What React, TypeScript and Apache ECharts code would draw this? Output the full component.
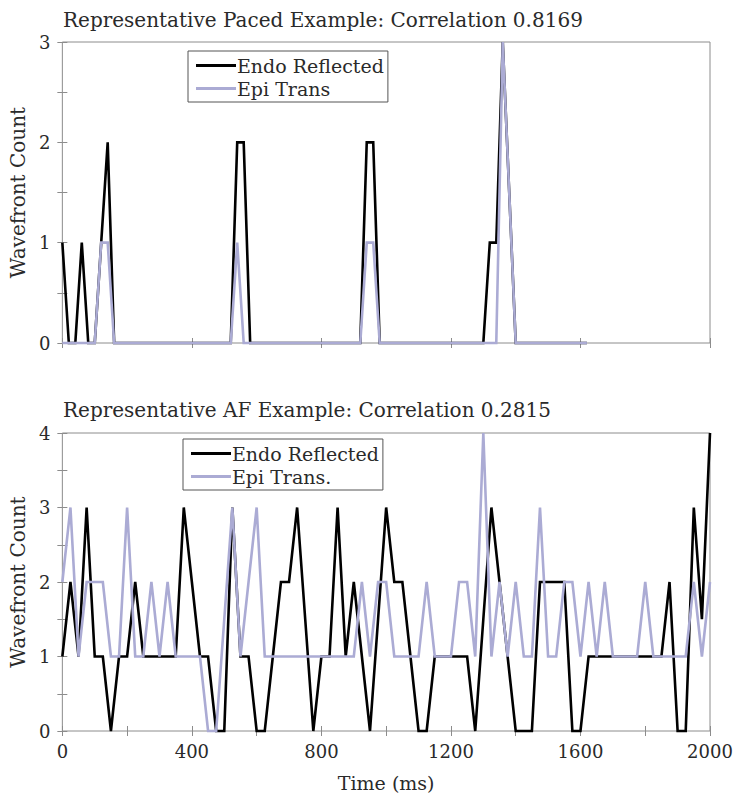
import React, { useEffect, useRef } from "react";
import * as echarts from "echarts";

// ---- Data ----
const PACED_STEP_MS = 20; // sample spacing of the paced recording
const AF_STEP_MS = 25; // sample spacing of the AF recording

const pacedEndo = [
  1, 0, 0, 1, 0, 0, 1, 2, 0, 0,
  0, 0, 0, 0, 0, 0, 0, 0, 0, 0,
  0, 0, 0, 0, 0, 0, 0, 2, 2, 0,
  0, 0, 0, 0, 0, 0, 0, 0, 0, 0,
  0, 0, 0, 0, 0, 0, 0, 2, 2, 0,
  0, 0, 0, 0, 0, 0, 0, 0, 0, 0,
  0, 0, 0, 0, 0, 0, 1, 1, 3, 1.5,
  0, 0, 0, 0, 0, 0, 0, 0, 0, 0,
  0, 0,
];
const pacedEpi = [
  0, 0, 0, 0, 0, 0, 1, 1, 0, 0,
  0, 0, 0, 0, 0, 0, 0, 0, 0, 0,
  0, 0, 0, 0, 0, 0, 0, 1, 0, 0,
  0, 0, 0, 0, 0, 0, 0, 0, 0, 0,
  0, 0, 0, 0, 0, 0, 0, 1, 1, 0,
  0, 0, 0, 0, 0, 0, 0, 0, 0, 0,
  0, 0, 0, 0, 0, 0, 0, 0, 3, 1.5,
  0, 0, 0, 0, 0, 0, 0, 0, 0, 0,
  0, 0,
];

const afEndo = [
  1, 2, 1, 3, 1, 1, 0, 1, 1, 2,
  1, 1, 1, 1, 1, 3, 2, 1, 1, 0,
  0, 3, 1, 1, 0, 0, 1, 2, 2, 3,
  1.5, 0, 1, 1, 3, 1, 2, 1, 0, 1.5,
  3, 2, 2, 1, 0, 0, 1, 1, 1, 1,
  1, 0, 1.5, 3, 2, 1, 0, 0, 0, 2,
  2, 2, 2, 0, 0, 1, 1, 1, 1, 1,
  1, 1, 1, 1, 1, 2, 0, 0, 3, 1.5,
  4,
];
const afEpi = [
  2, 3, 1, 2, 2, 2, 1, 1, 3, 1,
  1, 2, 1, 2, 1, 1, 1, 1, 0, 0,
  1.5, 3, 1, 2, 3, 1, 1, 1, 1, 1,
  1, 1, 1, 1, 1, 1, 1, 2, 1, 2,
  2, 1, 1, 1, 1, 2, 1, 1, 1, 2,
  2, 1, 4, 1, 2, 1, 2, 1, 1, 3,
  1, 1, 2, 2, 1, 2, 1, 2, 1, 1,
  1, 1, 2, 1, 1, 1, 1, 1, 2, 1,
  2,
];

const titles = [
  "Representative Paced Example: Correlation 0.8169",
  "Representative AF Example: Correlation 0.2815",
];
const endoName = "Endo Reflected";
const epiNames = ["Epi Trans", "Epi Trans."];
const yName = "Wavefront Count";
const xName = "Time (ms)";

// ---- Styles ----
const FONT = "'DejaVu Serif', 'Liberation Serif', serif";
const AXIS = "#8c8c8c";
const TEXT = "#2a2a2a";
const BLACK = "#000000";
const LAV = "#ababd4";

export default function App() {
  const ref = useRef<HTMLDivElement>(null);

  useEffect(() => {
    if (!ref.current) return;
    const chart = echarts.init(ref.current, undefined, { renderer: "svg" });

    const tick = { show: true, inside: true, length: 5, lineStyle: { color: AXIS } };
    const label = { color: TEXT, fontSize: 18, fontFamily: FONT };

    const xAxisFor = (grid: number, pos: "top" | "bottom", interval: number, labels: boolean, extra: any = {}) => ({
      type: "value",
      gridIndex: grid,
      position: pos,
      min: 0,
      max: 2000,
      interval,
      axisLine: { show: false },
      axisTick: tick,
      splitLine: { show: false },
      axisLabel: labels
        ? {
            ...label,
            margin: 11,
            showMinLabel: true,
            showMaxLabel: true,
            formatter: (v: number) => (v % 400 === 0 ? String(v) : ""),
          }
        : { show: false },
      ...extra,
    });

    const yAxisFor = (grid: number, pos: "left" | "right", max: number, labels: boolean, extra: any = {}) => ({
      type: "value",
      gridIndex: grid,
      position: pos,
      min: 0,
      max,
      interval: 0.5,
      axisLine: { show: false },
      axisTick: tick,
      splitLine: { show: false },
      axisLabel: labels
        ? {
            ...label,
            margin: 12,
            formatter: (v: number) => (Number.isInteger(v) ? String(v) : ""),
          }
        : { show: false },
      ...extra,
    });

    const yNameCfg = {
      name: yName,
      nameLocation: "middle",
      nameGap: 33,
      nameTextStyle: { color: TEXT, fontSize: 20, fontFamily: FONT },
    };

    const lineSeries = (name: string, data: number[], step: number, axis: number, color: string) => ({
      type: "line",
      name,
      xAxisIndex: axis,
      yAxisIndex: axis,
      data: data.map((v, i) => [i * step, v]),
      symbol: "none",
      showSymbol: false,
      clip: false,
      lineStyle: { color, width: 2.6, join: "miter" },
      itemStyle: { color },
    });

    const legendCfg = (left: number, top: number, names: string[]) => ({
      left,
      top,
      orient: "vertical",
      data: names.map((n) => ({ name: n, icon: "rect" })),
      borderColor: "#555",
      borderWidth: 1,
      backgroundColor: "#fff",
      padding: [5, 4, 4, 8],
      itemGap: 4,
      itemWidth: 40,
      itemHeight: 3,
      textStyle: { color: TEXT, fontSize: 19, fontFamily: FONT, padding: [0, 0, 0, -4] },
      selectedMode: false,
    });

    chart.setOption({
      animation: false,
      backgroundColor: "#fff",
      title: [
        { text: titles[0], left: 58, top: 5, textStyle: { color: TEXT, fontSize: 20, fontWeight: "normal", fontFamily: FONT } },
        { text: titles[1], left: 58, top: 395, textStyle: { color: TEXT, fontSize: 20, fontWeight: "normal", fontFamily: FONT } },
      ],
      legend: [
        legendCfg(188, 51, [endoName, epiNames[0]]),
        legendCfg(183, 439, [endoName, epiNames[1]]),
      ],
      grid: [
        { left: 55, right: 30, top: 42, height: 301, show: true, borderColor: AXIS, borderWidth: 1, backgroundColor: "transparent" },
        { left: 55, right: 30, top: 433, height: 302, show: true, borderColor: AXIS, borderWidth: 1, backgroundColor: "transparent" },
      ],
      xAxis: [
        xAxisFor(0, "bottom", 400, false),
        xAxisFor(0, "top", 400, false),
        xAxisFor(1, "bottom", 200, true, {
          name: xName,
          nameLocation: "middle",
          nameGap: 42,
          nameTextStyle: { color: TEXT, fontSize: 19, fontFamily: FONT },
        }),
        xAxisFor(1, "top", 200, false),
      ],
      yAxis: [
        yAxisFor(0, "left", 3, true, yNameCfg),
        yAxisFor(0, "right", 3, false),
        yAxisFor(1, "left", 4, true, yNameCfg),
        yAxisFor(1, "right", 4, false),
      ],
      series: [
        lineSeries(endoName, pacedEndo, PACED_STEP_MS, 0, BLACK),
        lineSeries(epiNames[0], pacedEpi, PACED_STEP_MS, 0, LAV),
        lineSeries(endoName, afEndo, AF_STEP_MS, 2, BLACK),
        lineSeries(epiNames[1], afEpi, AF_STEP_MS, 2, LAV),
      ],
    });

    return () => chart.dispose();
  }, []);

  return (
    <div
      ref={ref}
      style={{ position: "fixed", left: 0, top: 0, width: 740, height: 793, background: "#fff" }}
    />
  );
}
